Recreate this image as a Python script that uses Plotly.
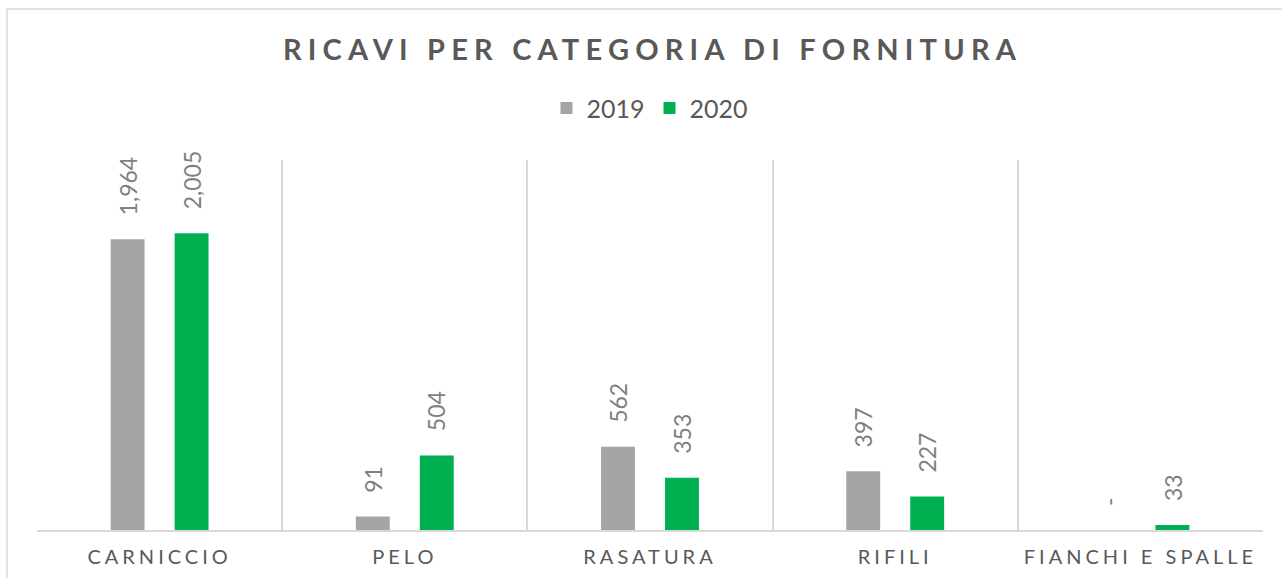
import plotly.graph_objects as go

categories = ["CARNICCIO", "PELO", "RASATURA", "RIFILI", "FIANCHI E SPALLE"]
values_2019 = [1964, 91, 562, 397, 0]
values_2020 = [2005, 504, 353, 227, 33]
labels_2019 = ["1,964", "91", "562", "397", "-"]
labels_2020 = ["2,005", "504", "353", "227", "33"]

FONT = "Lato"
fig = go.Figure()
fig.add_trace(go.Bar(name="2019", x=categories, y=values_2019,
                     marker=dict(color="#a5a5a5", line=dict(width=0))))
fig.add_trace(go.Bar(name="2020", x=categories, y=values_2020,
                     marker=dict(color="#00b050", line=dict(width=0))))

annotations = []
for vals, labs, dx in ((values_2019, labels_2019, -32), (values_2020, labels_2020, 32)):
    for c, v, t in zip(categories, vals, labs):
        annotations.append(dict(x=c, y=v, xref="x", yref="y", text=t, showarrow=False,
                                textangle=-90, xanchor="center", yanchor="bottom",
                                xshift=dx, yshift=22,
                                font=dict(family=FONT, size=23, color="#7f7f7f")))

fig.update_layout(
    width=1282, height=578,
    margin=dict(l=37, r=19, t=160, b=48),
    paper_bgcolor="white", plot_bgcolor="white",
    barmode="group", bargap=0.478, bargroupgap=0.47,
    title=dict(text="<b>RICAVI PER CATEGORIA DI FORNITURA</b>", x=0.509, xanchor="center",
               y=0.913, yanchor="middle",
               font=dict(family=FONT, size=29, color="#595959")),
    legend=dict(orientation="h", x=0.5, xanchor="center", y=1.14, yanchor="middle",
                font=dict(family=FONT, size=25, color="#595959"),
                itemwidth=30, traceorder="normal"),
    xaxis=dict(tickson="boundaries", showgrid=True, gridcolor="#d9d9d9", gridwidth=1.5,
               showline=True, linecolor="#d9d9d9", linewidth=1.5, ticks="",
               ticklabelstandoff=8, automargin=False,
               tickfont=dict(family=FONT, size=20, color="#595959")),
    yaxis=dict(range=[0, 2500], visible=False, showgrid=False, zeroline=False),
    annotations=annotations,
    shapes=[dict(type="rect", xref="paper", yref="paper", x0=-0.0245, x1=1.05, y0=-0.2, y1=1.408,
                 line=dict(color="#d9d9d9", width=1.5), fillcolor="rgba(0,0,0,0)", layer="below")],
)

post = """
document.body.style.margin='0';
function ls(){
 document.querySelectorAll('.gtitle').forEach(e=>e.style.letterSpacing='6.2px');
 document.querySelectorAll('.xtick text').forEach(e=>e.style.letterSpacing='4px');
}
ls(); setTimeout(ls, 50);
"""
fig.write_html("out.html", post_script=post, config={"displayModeBar": False})
